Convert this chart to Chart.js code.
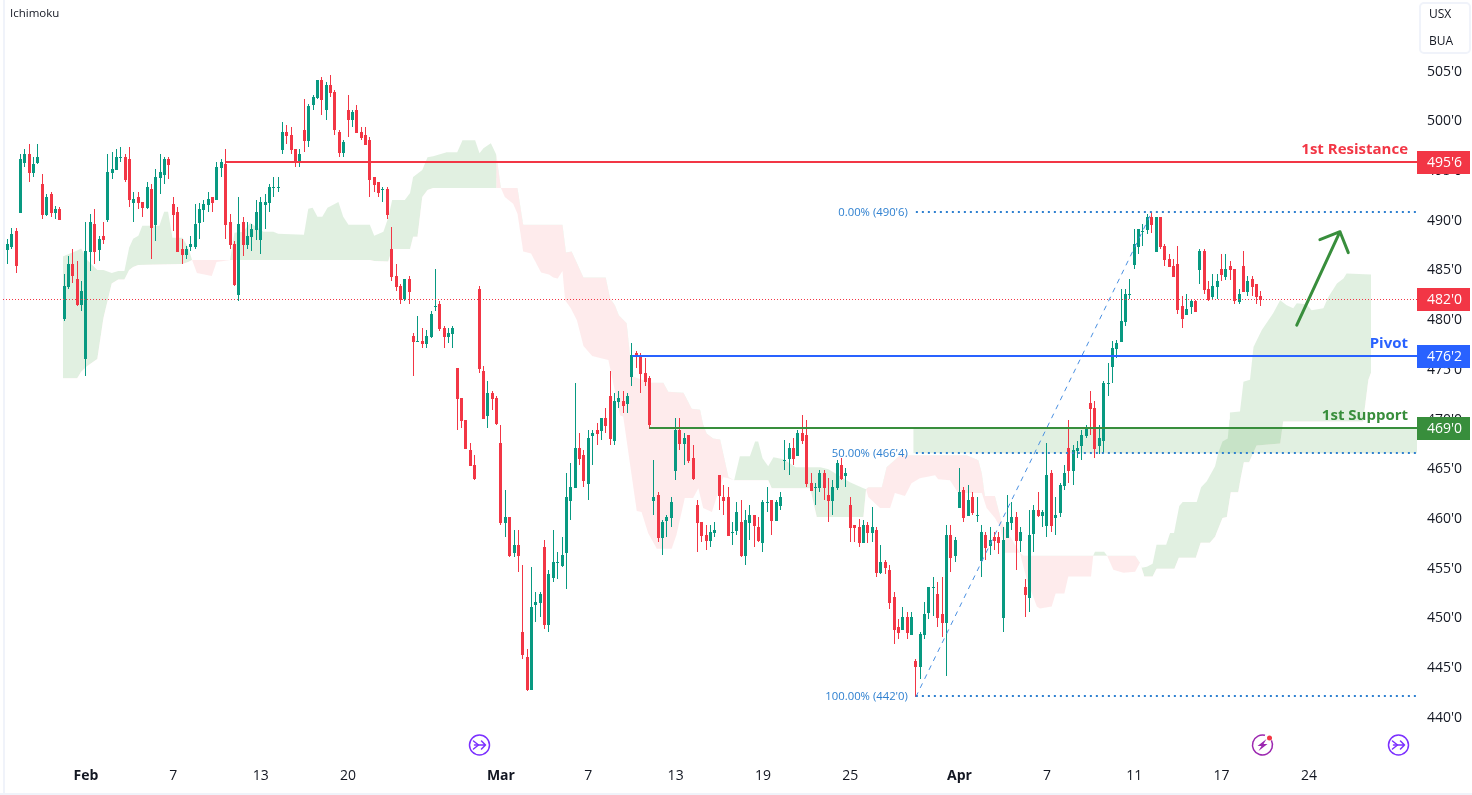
<!DOCTYPE html>
<html><head><meta charset="utf-8">
<style>html,body{margin:0;padding:0;background:#fff;overflow:hidden}canvas{display:block}</style>
<script src="https://cdn.jsdelivr.net/npm/chart.js@4"></script>
</head><body><canvas id="c" width="1472" height="795"></canvas>
<script>
const opens=[487.0,487.3,488.9,490.7,495.7,496.6,494.7,495.7,493.6,490.5,
492.6,490.7,491.1,480.0,483.2,485.6,484.0,481.4,476.0,486.8,
489.6,487.0,488.4,490.0,494.7,495.0,496.2,496.3,496.1,491.7,
492.3,491.8,491.2,493.1,489.5,494.2,494.5,496.1,491.6,490.8,
487.1,486.5,487.3,487.3,489.7,491.0,491.5,492.3,492.0,495.2,
495.6,489.8,487.6,482.4,489.8,487.5,488.3,489.0,488.0,491.5,
491.7,493.2,493.2,497.0,498.8,498.5,497.1,495.8,499.0,497.9,
501.5,502.3,504.1,501.0,503.6,502.9,498.8,496.7,501.05,500.0,
501.05,498.8,498.5,498.0,494.3,493.8,493.0,493.1,487.1,484.35,
483.35,482.05,484.05,478.3,477.7,477.8,477.5,478.2,481.2,481.5,
479.1,478.2,478.5,475.1,472.07,469.86,466.84,465.33,483.04,474.79,
470.26,472.57,472.07,467.54,459.5,460.1,456.5,457.3,448.5,446.0,
442.7,451.25,451.45,457.1,449.23,454.0,455.5,455.2,456.5,461.7,
463.0,467.05,466.35,463.4,468.25,468.85,468.75,470.05,472.3,467.75,
471.7,471.8,471.5,474.2,476.6,476.3,474.6,474.1,461.7,462.3,
458.0,459.7,460.0,464.7,468.85,467.45,468.35,466.05,461.3,459.6,
458.3,457.7,458.5,464.3,462.1,462.1,458.5,458.7,459.6,456.2,
459.5,460.3,459.1,457.5,461.5,461.8,459.7,461.2,465.75,465.95,
467.05,466.25,468.55,468.35,463.5,463.0,463.0,464.5,462.3,461.7,
463.0,465.3,464.2,461.3,459.3,459.1,457.5,459.3,458.5,458.8,
454.5,455.6,454.8,452.05,449.0,448.7,450.05,448.2,445.6,445.0,
448.2,450.4,452.95,452.35,450.3,449.4,458.3,456.2,461.0,462.8,
460.2,462.1,460.2,455.7,458.3,457.2,458.1,458.1,449.9,458.0,
459.5,460.1,457.7,453.05,451.9,458.4,460.8,460.2,459.2,464.5,
460.0,460.5,463.2,467.0,464.7,466.75,467.25,468.25,471.55,471.05,
467.25,467.75,473.5,475.2,477.0,477.7,479.7,482.4,485.45,487.25,
488.8,489.0,490.3,486.75,490.3,487.35,486.05,485.35,485.55,481.35,
480.4,481.25,481.85,484.95,486.85,483.05,482.25,483.25,485.05,484.25,
485.35,485.05,481.75,485.35,482.75,484.05,483.55,482.35];
const closes=[487.6,488.6,485.3,496.1,496.6,494.7,495.6,496.3,490.5,492.3,
490.7,491.1,490.0,483.3,485.6,484.3,481.4,482.8,486.9,489.8,
486.8,488.1,488.0,494.8,495.1,496.3,496.3,494.0,492.0,492.1,
491.7,491.2,493.3,489.2,494.3,494.8,496.1,495.5,490.5,486.8,
486.5,487.1,487.6,489.6,491.1,491.6,492.1,491.7,495.3,495.8,
489.5,487.5,483.4,489.6,487.5,488.4,489.1,490.8,491.8,491.8,
493.3,493.3,493.3,498.8,498.4,497.0,495.8,496.6,497.9,501.4,
502.4,504.1,502.0,503.6,502.8,499.0,496.7,497.8,500.0,500.85,
498.7,498.2,497.5,494.0,493.5,492.7,493.1,490.5,484.25,483.25,
481.95,484.05,482.75,477.7,477.8,477.5,478.3,480.5,481.3,479.0,
478.2,478.6,479.1,471.97,469.76,466.94,465.23,463.92,474.99,469.96,
472.57,471.97,469.45,459.5,460.1,456.2,457.3,456.2,446.2,442.7,
451.0,451.55,452.35,449.2,454.36,455.6,455.6,456.3,462.1,463.1,
467.05,465.9,463.7,468.05,468.55,468.45,470.05,469.25,467.95,471.8,
472.1,471.3,472.3,476.4,476.2,474.5,473.7,469.35,462.1,458.0,
459.6,460.1,461.6,468.85,467.45,468.05,465.75,463.9,459.5,458.2,
457.7,458.6,458.8,462.2,461.7,458.2,458.6,460.6,456.2,459.8,
460.3,459.2,457.7,461.6,461.6,459.7,461.6,462.1,465.85,467.05,
465.95,468.55,467.75,463.4,462.7,463.1,464.5,463.0,461.7,463.1,
465.5,463.9,464.5,459.0,459.0,457.5,459.3,458.5,459.1,454.5,
455.6,455.0,451.4,448.7,448.4,450.05,448.4,450.05,445.0,448.3,
450.3,453.05,453.05,449.9,449.4,458.3,456.0,457.8,462.6,460.0,
461.8,460.5,460.3,458.6,457.0,457.8,457.7,457.5,457.8,459.6,
460.1,457.7,458.6,452.25,458.3,460.8,460.2,460.6,464.3,459.2,
460.3,463.3,464.5,464.7,466.85,467.05,468.35,469.05,470.95,466.95,
468.05,473.6,473.6,477.1,477.6,479.8,482.5,482.5,487.6,489.1,
488.9,490.3,489.5,490.3,487.25,485.95,485.25,484.25,480.95,480.0,
481.05,481.85,480.75,486.85,482.95,481.95,483.35,483.85,484.45,485.05,
484.95,481.85,482.55,482.75,483.85,483.25,482.25,481.95];
const highs=[488.1,489.2,489.2,496.6,497.1,497.6,496.3,497.6,494.6,492.6,
492.8,491.4,491.3,484.5,486.4,487.1,485.9,483.8,489.8,490.6,
491.1,488.4,489.8,496.6,496.8,497.1,497.3,496.6,497.3,492.8,
492.8,491.8,493.8,493.6,495.1,496.6,496.3,496.3,492.3,491.3,
488.1,487.4,488.4,491.6,491.7,492.0,492.8,492.3,495.8,496.1,
497.1,490.6,487.9,492.3,490.3,489.8,489.6,492.0,492.3,492.6,
493.6,494.3,494.3,499.8,499.5,499.3,497.1,497.1,502.1,501.6,
502.6,504.1,504.4,503.9,504.6,503.1,499.0,498.0,502.6,501.05,
501.55,499.3,499.3,498.3,494.3,493.8,493.3,493.3,489.3,485.55,
483.55,484.05,484.35,478.6,480.3,479.1,478.9,480.8,485.05,481.8,
479.3,479.1,479.3,475.1,472.07,469.86,467.54,466.34,483.34,475.29,
473.78,472.77,472.27,469.35,462.8,460.1,458.8,458.8,455.3,446.8,
455.1,452.55,452.55,457.8,454.76,458.8,456.6,458.1,464.5,465.5,
473.6,468.55,466.85,468.85,468.85,469.55,470.05,471.05,474.8,472.6,
472.8,472.8,472.6,477.6,476.8,476.6,476.1,474.3,465.8,462.6,
459.8,460.3,462.1,470.1,470.1,468.55,468.35,467.35,461.8,459.6,
459.3,459.3,459.6,464.3,463.3,463.1,459.6,461.6,461.8,460.8,
461.3,460.3,460.1,461.8,463.1,461.8,461.8,462.6,467.85,467.55,
468.05,468.85,470.35,469.85,464.5,463.5,464.8,464.8,464.0,463.8,
465.8,466.0,465.0,462.1,459.3,459.9,459.8,459.6,461.1,459.1,
457.3,455.8,455.3,452.6,449.8,451.05,450.5,450.5,445.8,448.5,
451.5,453.05,454.05,453.55,454.05,459.3,459.3,458.1,465.0,463.1,
463.3,462.6,462.1,459.3,458.6,459.1,458.6,458.6,459.1,462.3,
461.6,460.6,459.1,453.9,460.8,461.3,462.6,460.8,467.55,464.8,
462.1,463.5,465.3,469.85,467.35,467.75,468.85,469.35,472.75,471.75,
469.35,473.8,475.6,477.8,477.9,483.0,483.0,484.0,489.1,489.1,
489.6,490.6,490.8,490.3,490.3,487.55,486.55,486.05,487.35,482.35,
482.55,482.05,481.95,487.05,487.05,483.85,484.55,484.55,486.55,486.55,
485.85,485.05,483.05,486.85,484.35,484.35,483.55,482.85];
const lows=[485.6,487.1,484.6,490.7,495.3,493.8,494.3,495.6,490.1,490.4,
490.3,490.1,490.0,479.8,483.0,483.6,481.3,480.8,474.3,484.8,
485.6,485.9,487.6,489.8,494.1,495.0,495.8,493.8,491.3,489.8,
491.1,490.3,491.1,486.1,487.9,492.6,493.6,494.1,488.9,486.8,
485.6,486.1,486.9,487.1,488.1,489.8,490.8,490.8,492.0,494.3,
488.1,487.1,483.3,481.8,486.4,487.1,486.9,488.0,486.6,489.1,
490.8,492.3,492.8,496.6,497.6,496.6,495.3,495.3,496.8,497.3,
501.05,502.1,500.5,500.0,502.4,498.5,496.3,496.3,498.3,499.3,
498.7,498.0,497.5,492.3,492.8,492.3,491.8,490.1,483.85,482.85,
481.55,481.85,481.55,474.3,477.7,477.1,477.1,478.1,480.8,478.8,
477.1,477.6,477.1,468.85,469.05,466.94,465.23,463.82,474.59,469.96,
469.05,470.86,469.35,459.3,458.1,456.1,456.1,454.6,445.8,442.6,
442.7,449.5,450.0,448.8,448.53,453.6,453.9,455.1,452.85,459.8,
463.0,465.3,463.1,461.8,465.3,467.35,467.85,468.55,467.35,467.35,
471.05,470.55,470.55,473.3,475.1,472.6,473.3,468.95,460.3,457.6,
456.3,458.1,459.1,463.8,466.85,465.35,465.55,463.8,456.6,457.6,
456.8,457.1,458.1,460.8,460.3,458.2,457.3,458.3,456.1,455.3,
457.8,457.1,457.6,456.6,460.6,458.3,459.7,460.8,464.8,464.35,
465.35,466.25,467.45,463.1,462.7,461.3,462.6,461.8,459.6,460.3,
462.8,463.8,463.1,457.6,457.6,457.1,457.5,457.5,457.6,454.1,
454.4,454.4,450.8,447.3,447.8,448.7,447.8,448.2,442.0,443.8,
447.8,449.8,450.1,449.0,448.0,444.1,454.6,455.6,461.0,459.6,
460.2,460.3,459.6,454.1,455.8,456.3,456.8,456.4,448.5,458.0,
458.8,454.8,456.6,450.05,450.55,456.6,460.1,459.1,458.1,458.6,
458.3,460.1,462.8,463.5,463.3,466.0,465.85,468.05,468.35,466.0,
466.45,466.55,472.3,473.6,476.1,477.7,479.3,482.0,485.05,486.55,
487.4,488.6,488.7,486.75,487.05,485.35,485.25,484.25,480.55,479.1,
480.4,480.55,480.75,483.55,482.55,481.85,482.05,482.05,483.85,483.95,
483.95,481.55,481.55,482.75,482.35,482.35,481.55,481.35];

const spanAIdx=[12.7,16.0,16.9,18.3,20.6,22.0,23.9,25.4,26.8,27.9,28.8,30.0,30.9,34.8,35.9,36.8,37.8,40.1,41.4,42.3,43.4,46.8,47.9,51.0,52.0,54.0,55.6,58.6,60.9,62.0,67.9,68.9,69.9,71.0,72.1,73.3,75.8,76.9,78.1,83.0,84.0,86.1,87.2,88.1,91.0,92.2,92.9,95.0,96.2,97.5,100.6,103.0,104.2,107.1,108.1,109.0,110.7,111.9,111.95,113.0,113.9,115.8,116.8,118.1,119.9,122.2,124.0,125.0,126.0,127.1,127.7,129.0,130.4,131.9,133.9,135.7,137.6,140.3,141.0,144.1,145.2,146.7,148.7,152.1,153.2,155.1,157.0,158.2,159.3,161.3,162.4,163.9,165.1,166.4,167.7,170.0,171.2,171.9,172.9,174.2,175.4,177.7,180.5,186.1,188.0,192.9,196.0,196.6,197.1,199.8,202.1,203.2,205.5,207.0,208.9,212.4,213.1,215.8,217.7,223.1,224.2,226.1,227.3,228.4,231.8,233.4,235.7,236.4,239.1,240.0,242.0,242.9,248.1,248.6,249.0,251.1,251.8,253.2,255.5,258.2,259.3,259.7,260.9,262.2,263.1,265.3,266.2,267.1,268.3,269.1,272.3,273.3,274.6,276.5,277.2,278.2,279.4,279.8,279.9,282.2,283.0,284.5,285.3,287.2,289.8,291.4,292.9,294.4,295.2,297.5,298.6,301.3,302.4,304.4,305.9,306.6,312.2];
const spanAVal=[486.3,486.9,487.1,485.95,484.95,484.95,484.65,484.85,484.85,487.2,488.1,488.4,489.4,489.4,490.8,490.8,488.2,488.2,487.2,485.95,484.65,484.35,485.75,485.95,488.7,488.8,489.7,488.8,488.8,488.6,488.5,491.1,491.2,490.3,490.3,491.2,491.8,490.3,489.5,489.5,488.4,488.8,490.2,492.0,492.0,492.7,494.3,495.0,496.3,496.4,496.8,496.8,498.0,498.0,496.7,497.2,497.7,496.6,493.2,493.2,492.3,491.6,490.6,486.8,486.6,484.7,484.5,484.2,484.1,484.85,481.9,481.1,479.9,477.3,476.3,476.1,475.9,470.3,470.2,460.7,460.6,458.5,456.9,456.9,458.3,462.0,462.0,463.0,461.0,460.6,462.1,464.1,464.0,463.8,466.2,466.2,467.7,467.7,466.0,465.2,466.1,465.9,465.1,465.1,464.9,463.6,463.0,462.9,462.1,461.0,461.0,462.5,462.2,463.5,464.0,464.3,463.9,463.8,462.5,462.5,461.0,460.0,459.1,456.5,456.5,453.8,451.1,450.9,451.1,452.4,452.4,454.1,454.1,456.2,456.6,456.6,456.2,454.8,454.5,454.6,455.5,455.0,455.1,455.4,457.3,457.3,458.5,458.5,461.2,461.6,461.6,463.1,463.7,465.2,466.5,467.7,468.0,469.9,470.6,470.7,473.7,473.9,477.2,478.9,480.6,481.9,481.4,481.1,481.6,481.5,480.9,481.1,482.2,483.6,484.1,484.6,484.5];
const spanBIdx=[12.7,16.0,16.9,18.3,20.6,22.0,23.9,25.4,26.8,27.9,28.8,30.0,40.1,41.4,42.3,51.0,83.0,84.0,87.2,88.1,92.2,92.9,93.9,95.0,96.2,97.5,111.9,111.95,113.0,116.8,118.1,127.1,127.9,129.2,131.9,137.0,138.0,139.1,140.0,141.8,142.6,143.3,147.1,150.2,151.3,154.8,156.7,158.6,159.3,160.1,161.6,163.2,165.1,166.4,174.2,175.0,183.8,185.3,196.0,196.6,197.1,200.2,201.3,204.4,219.6,222.3,223.1,223.8,226.1,227.7,231.8,232.6,258.2,259.3,260.3,262.2,263.1,267.2,268.2,272.1,273.2,275.3,276.5,278.2,279.2,280.1,281.8,282.4,283.1,284.3,286.0,291.4,292.1,310.4,311.6,312.2];
const spanBVal=[474.05,474.05,474.7,475.3,476.0,480.1,483.6,484.0,484.0,484.95,485.25,485.45,485.55,485.75,485.95,485.95,485.95,485.85,485.8,487.06,487.06,488.3,488.3,492.3,493.0,493.2,493.2,496.6,493.2,493.2,489.5,489.5,486.7,486.8,484.2,484.2,482.1,481.4,480.4,479.6,476.2,474.2,473.6,473.6,472.7,472.6,471.0,470.9,469.4,468.5,468.0,467.9,464.1,463.8,463.8,463.0,463.0,460.1,460.1,462.9,463.1,463.1,465.1,466.3,466.3,465.8,464.5,462.2,462.2,459.5,456.5,456.2,456.2,455.5,454.1,454.1,454.9,454.9,456.0,456.0,457.5,457.5,458.1,460.0,460.1,462.6,462.6,464.1,465.6,465.6,467.3,467.5,469.7,469.7,473.9,474.6];

const xTickIdx=[18,38,58,78,113,133,153,173,193,218,238,258,278,298];
const xTickLabels=['Feb','7','13','20','Mar','7','13','19','25','Apr','7','11','17','24'];
const monthLabels=['Feb','Mar','Apr'];
const priceTicks=[440,445,450,455,460,465,470,475,480,485,490,495,500,505];

const levelStart=[50,143,147];
const levelPrice=[495.75,476.25,469];
const levelNames=['1st Resistance','Pivot','1st Support'];
const levelTags=["495'6","476'2","469'0"];
const levelColors=['#f23645','#2962ff','#388e3c'];
const lastPrice=482, lastTag="482'0";
const fibStart=208, fibPrices=[490.75,466.5,442];
const fibLabels=["0.00% (490'6)","50.00% (466'4)","100.00% (442'0)"];
const trendIdx=[208,262], trendVal=[442,490.75];
const arrowIdx=[295.2,305.1,300.5,305.1,307.0], arrowVal=[479.4,488.8,488.0,488.8,486.7];
const zoneIdx=207.4, zoneTop=469, zoneBottom=466.5;

const GREEN='#089981', RED='#f23645';
const X_MIN=-0.991, X_MAX=322.73;
const zip=(xs,ys)=>xs.map((x,i)=>({x,y:ys[i]}));
const lineBase={type:'line',pointRadius:0,tension:0,fill:false,order:1};
const candleColor=opens.map((o,i)=>closes[i]>=o?GREEN:RED);
const datasets=[
 {...lineBase,data:zip(spanAIdx,spanAVal),borderWidth:0,order:10,
  fill:{target:1,above:'rgba(67,160,71,0.16)',below:'rgba(242,54,69,0.1)'}},
 {...lineBase,data:zip(spanBIdx,spanBVal),borderWidth:0,order:11},
 {...lineBase,data:[{x:zoneIdx,y:zoneTop},{x:X_MAX,y:zoneTop}],borderWidth:0,order:9,
  fill:{value:zoneBottom},backgroundColor:'rgba(67,160,71,0.16)'},
 {type:'bar',data:opens.map((o,i)=>({x:i,y:[lows[i],highs[i]]})),backgroundColor:candleColor,barThickness:1,grouped:false,order:6,inflateAmount:0,borderWidth:0},
 {type:'bar',data:opens.map((o,i)=>({x:i,y:[o,closes[i]]})),backgroundColor:candleColor,barThickness:3,grouped:false,order:5,inflateAmount:0,borderWidth:0},
 ...levelPrice.map((p,i)=>({...lineBase,data:[{x:levelStart[i],y:p},{x:X_MAX,y:p}],borderColor:levelColors[i],borderWidth:2})),
 {...lineBase,data:[{x:X_MIN,y:lastPrice},{x:X_MAX,y:lastPrice}],borderColor:RED,borderWidth:1,borderDash:[1,2],order:3},
 ...fibPrices.map(p=>({...lineBase,data:[{x:fibStart,y:p},{x:X_MAX,y:p}],borderColor:'#2f80d0',borderWidth:2,borderDash:[2,4],order:2})),
 {...lineBase,data:zip(trendIdx,trendVal),borderColor:'#4a90e2',borderWidth:1,borderDash:[5,5],order:4},
 {...lineBase,data:zip(arrowIdx,arrowVal),borderColor:'#388e3c',borderWidth:3,order:0,borderCapStyle:'round',borderJoinStyle:'round'}
];
const FONT='"Open Sans"';
const snap={id:'snap',afterDatasetsUpdate(chart){
 [3,4].forEach(d=>{chart.getDatasetMeta(d).data.forEach(el=>{
  el.x=Math.floor(el.x)+0.5; el.y=Math.round(el.y); el.base=Math.round(el.base);
  if(el.y===el.base) el.base=el.y+1;
 });});
 [5,6,7,9,10,11].forEach(d=>chart.getDatasetMeta(d).data.forEach(el=>{el.y=Math.floor(el.y);}));
 chart.getDatasetMeta(8).data.forEach(el=>{el.y=Math.floor(el.y)+0.5;});
}};
function circleIcon(ctx,cx,cy,color){
 ctx.save();ctx.strokeStyle=color;ctx.lineWidth=1.5;ctx.lineCap='round';ctx.lineJoin='round';
 ctx.beginPath();ctx.arc(cx,cy,10,0,Math.PI*2);ctx.stroke();
 ctx.beginPath();ctx.moveTo(cx-6,cy-4);ctx.lineTo(cx-1,cy);ctx.lineTo(cx-6,cy+4);ctx.stroke();
 ctx.beginPath();ctx.moveTo(cx-5,cy);ctx.lineTo(cx+6,cy);ctx.moveTo(cx+2,cy-4);ctx.lineTo(cx+6,cy);ctx.lineTo(cx+2,cy+4);ctx.stroke();
 ctx.restore();
}
function boltIcon(ctx,cx,cy){
 ctx.save();ctx.strokeStyle='#9c27b0';ctx.fillStyle='#9c27b0';ctx.lineWidth=1.5;
 ctx.beginPath();ctx.arc(cx,cy,10,-Math.PI*0.15,-Math.PI*0.42,false);ctx.stroke();
 ctx.beginPath();ctx.moveTo(cx+4,cy-6);ctx.lineTo(cx-5,cy+1);ctx.lineTo(cx-1,cy+1);ctx.lineTo(cx-4,cy+6);ctx.lineTo(cx+5,cy-1);ctx.lineTo(cx+1,cy-1);ctx.closePath();ctx.fill();
 ctx.fillStyle=RED;ctx.beginPath();ctx.arc(cx+7,cy-7,2.5,0,Math.PI*2);ctx.fill();
 ctx.restore();
}
const overlay={id:'overlay',
 beforeDraw(chart){const c=chart.ctx;c.save();c.fillStyle='#fff';c.fillRect(0,0,1472,795);
  c.fillStyle='#f0f3fa';c.fillRect(3,0,2,795);c.fillRect(0,793,1472,2);c.restore();},
 afterDraw(chart){
  const c=chart.ctx,y=chart.scales.y,x=chart.scales.x;
  c.save();c.textBaseline='middle';
  const badge=(price,txt,col)=>{const py=Math.floor(y.getPixelForValue(price));
   c.fillStyle=col;c.fillRect(1417,py-11,53,23);
   c.fillStyle='#fff';c.font='14px '+FONT;c.textAlign='left';c.fillText(txt,1427,py+1);};
  badge(lastPrice,lastTag,RED);
  levelPrice.forEach((p,i)=>{badge(p,levelTags[i],levelColors[i]);
   c.fillStyle=levelColors[i];c.font='bold 15px '+FONT;c.textAlign='right';
   c.fillText(levelNames[i],1408,y.getPixelForValue(p)-13);});
  c.font='11.3px '+FONT;c.textAlign='right';c.fillStyle='#2f80d0';
  fibPrices.forEach((p,i)=>c.fillText(fibLabels[i],x.getPixelForValue(fibStart)-8,y.getPixelForValue(p)));
  c.fillStyle='#131722';c.textAlign='left';c.font='11.5px '+FONT;c.fillText('Ichimoku',10,14);
  c.strokeStyle='#f0f3fa';c.lineWidth=2;c.beginPath();c.roundRect(1420,3,50,50,4);c.stroke();
  c.font='12px '+FONT;c.fillStyle='#131722';c.fillText('USX',1429,15);c.fillText('BUA',1429,42);
  circleIcon(c,479.5,745,'#7b2fff');circleIcon(c,1398.5,745,'#7b2fff');boltIcon(c,1262.5,745);
  c.restore();
 }};
new Chart(document.getElementById('c'),{
 type:'bar',
 data:{datasets},
 plugins:[snap,overlay],
 options:{responsive:false,animation:false,devicePixelRatio:1,events:[],
  layout:{autoPadding:false,padding:{left:3,right:0,top:0,bottom:0}},
  plugins:{legend:{display:false},tooltip:{enabled:false},title:{display:false}},
  scales:{
   x:{type:'linear',offset:false,min:X_MIN,max:X_MAX,grid:{display:false,drawTicks:false},border:{display:false},
    afterBuildTicks:s=>{s.ticks=xTickIdx.map(v=>({value:v}));},
    afterFit:s=>{s.height=33;s.paddingLeft=0;s.paddingRight=0;},
    ticks:{autoSkip:false,maxRotation:0,minRotation:0,padding:6,color:'#131722',
     callback:v=>xTickLabels[xTickIdx.indexOf(v)],
     font:ctx=>{const l=ctx.tick?xTickLabels[xTickIdx.indexOf(ctx.tick.value)]:'';return {family:FONT,size:14,weight:monthLabels.includes(l)?'bold':'normal'};}}},
   y:{type:'linear',position:'right',min:435.45,max:512.11,grid:{display:false,drawTicks:false},border:{display:false},
    afterBuildTicks:s=>{s.ticks=priceTicks.map(v=>({value:v}));},
    afterFit:s=>{s.width=55;s.paddingTop=0;s.paddingBottom=0;},
    ticks:{padding:10,labelOffset:1,color:'#131722',callback:v=>v+"'0",font:{family:FONT,size:14}}}
  }}
});
</script></body></html>
